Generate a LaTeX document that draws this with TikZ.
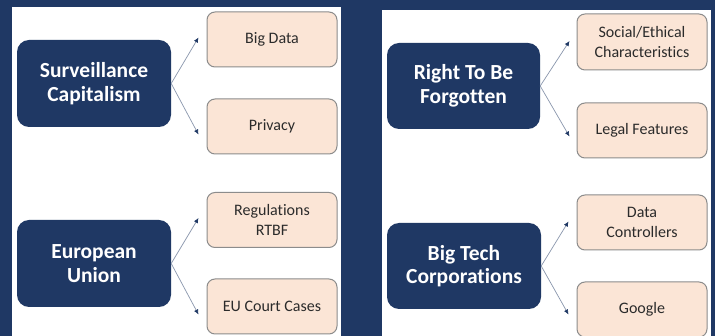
\documentclass[tikz,border=0pt]{standalone}
\usepackage{fontspec}
\setmainfont{Carlito}[Ligatures=NoCommon]
\usetikzlibrary{arrows.meta}
\definecolor{navy}{HTML}{1F3864}
\definecolor{peach}{HTML}{FBE5D6}
\definecolor{bordergray}{HTML}{8C8C8C}
\definecolor{txtgray}{HTML}{2B2B2B}
\definecolor{arrowgray}{HTML}{8A97AD}
\tikzset{
  mainbox/.style={fill=navy, rounded corners=12pt, minimum width=154pt, minimum height=87pt,
    text=white, align=center, inner sep=0pt,
    font=\fontsize{21.5pt}{23.5pt}\selectfont\bfseries},
  subbox/.style={fill=peach, draw=bordergray, line width=1pt, rounded corners=8pt,
    minimum width=130pt, minimum height=55pt, text=txtgray, align=center, inner sep=0pt,
    font=\fontsize{16pt}{19.5pt}\selectfont},
  link/.style={draw=arrowgray, line width=0.7pt, -{Latex[length=5pt,width=4.5pt,color=navy]}},
  panel/.style={fill=white, draw=none}
}
\begin{document}
\begin{tikzpicture}[x=1pt,y=-1pt]
\fill[navy] (0,0) rectangle (715,336);
\useasboundingbox (0,0) rectangle (715,336);
\begin{scope}
\clip (0,0) rectangle (715,336);
\fill[panel] (12,7) rectangle (341,336);
\fill[panel] (382,10) rectangle (711,336);

\node[mainbox] (sc) at (94,83.5) {Surveillance\\Capitalism};
\node[subbox] (bd) at (272,39.5) {Big Data};
\node[subbox] (pr) at (272,126.5) {Privacy};

\node[mainbox, minimum width=153pt, minimum height=86pt] (rt) at (463.5,86) {Right To Be\\Forgotten};
\node[subbox, minimum height=56pt] (se) at (642,42) {Social/Ethical\\Characteristics};
\node[subbox] (lf) at (642,130.5) {Legal Features};

\node[mainbox] (eu) at (94,263.5) {European\\Union};
\node[subbox] (rg) at (272,220) {Regulations\\RTBF};
\node[subbox] (ec) at (272,306.5) {EU Court Cases};

\node[mainbox, minimum height=86pt] (bt) at (464,266) {Big Tech\\Corporations};
\node[subbox] (dc) at (642,222.5) {Data\\Controllers};
\node[subbox] (go) at (642,309.5) {Google};

\draw[link] (sc.east) -- ([xshift=-8pt,yshift=2pt]bd.west);
\draw[link] (sc.east) -- ([xshift=-8pt,yshift=-8pt]pr.west);
\draw[link] (rt.east) -- ([xshift=-7pt,yshift=1pt]se.west);
\draw[link] (rt.east) -- ([xshift=-7pt,yshift=-6pt]lf.west);
\draw[link] (eu.east) -- ([xshift=-8pt,yshift=2pt]rg.west);
\draw[link] (eu.east) -- ([xshift=-8pt,yshift=-8pt]ec.west);
\draw[link] (bt.east) -- ([xshift=-8pt,yshift=1pt]dc.west);
\draw[link] (bt.east) -- ([xshift=-8pt,yshift=-5pt]go.west);
\end{scope}
\end{tikzpicture}
\end{document}
